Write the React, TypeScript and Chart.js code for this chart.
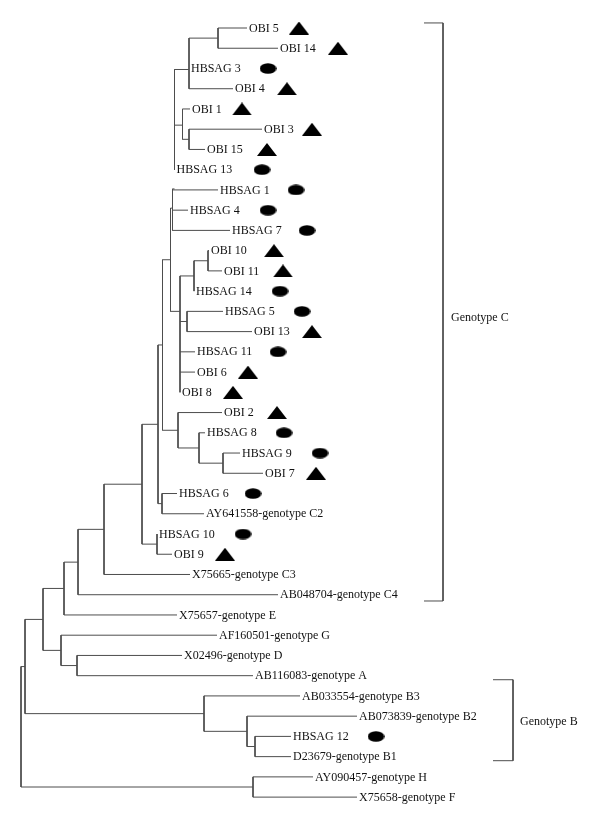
import React, { useEffect, useRef } from 'react';
import { Chart, registerables } from 'chart.js';

Chart.register(...registerables);

// Leaves, top to bottom (row = index)
const leafNames = [
  'OBI 5', 'OBI 14', 'HBSAG 3', 'OBI 4', 'OBI 1', 'OBI 3', 'OBI 15', 'HBSAG 13',
  'HBSAG 1', 'HBSAG 4', 'HBSAG 7', 'OBI 10', 'OBI 11', 'HBSAG 14', 'HBSAG 5', 'OBI 13',
  'HBSAG 11', 'OBI 6', 'OBI 8', 'OBI 2', 'HBSAG 8', 'HBSAG 9', 'OBI 7', 'HBSAG 6',
  'AY641558-genotype C2', 'HBSAG 10', 'OBI 9', 'X75665-genotype C3', 'AB048704-genotype C4',
  'X75657-genotype E', 'AF160501-genotype G', 'X02496-genotype D', 'AB116083-genotype A',
  'AB033554-genotype B3', 'AB073839-genotype B2', 'HBSAG 12', 'D23679-genotype B1',
  'AY090457-genotype H', 'X75658-genotype F',
];

// Cumulative distance of each leaf from the root
const leafDepth = [
  226, 257, 168, 212, 169, 241, 184, 153.5,
  197, 167, 209, 188, 201, 173, 202, 231,
  174, 174, 159, 201, 184, 219, 242, 156,
  183, 136, 151, 169, 257,
  156, 196, 161, 232,
  279, 336, 270, 270,
  292, 336,
];

// Sample marker: 'triangle' = OBI, 'ellipse' = HBsAg, '' = reference
const markerShape = [
  'triangle', 'triangle', 'ellipse', 'triangle', 'triangle', 'triangle', 'triangle', 'ellipse',
  'ellipse', 'ellipse', 'ellipse', 'triangle', 'triangle', 'ellipse', 'ellipse', 'triangle',
  'ellipse', 'triangle', 'triangle', 'triangle', 'ellipse', 'ellipse', 'triangle', 'ellipse',
  '', 'ellipse', 'triangle', '', '',
  '', '', '', '',
  '', '', 'ellipse', '',
  '', '',
];
const markerDepth = [
  278, 317, 247, 266, 221, 291, 246, 241,
  275, 247, 286, 253, 262, 259, 281, 291,
  257, 227, 212, 256, 263, 299, 295, 232,
  null, 222, 204, null, null,
  null, null, null, null,
  null, null, 355, null,
  null, null,
];

// Internal nodes
const nodeNames = [
  'n1', 'n2', 'n3', 'n4', 'n5', 'n6', 'n7', 'n8', 'n9', 'n10',
  'n11', 'n12', 'n13', 'n14', 'n15', 'n16', 'n17', 'n18', 'n19', 'n20',
  'n21', 'n22', 'n23', 'n24', 'n25', 'n26', 'n27', 'n28', 'n29', 'n30', 'root',
];
const nodeDepth = [
  197, 168, 168, 161.5, 153.5, 151.5, 187, 173, 166, 159,
  149.5, 202, 178, 157, 141.5, 141, 137, 136, 121, 83,
  57, 43, 56, 40, 22, 234, 226, 183, 4, 232, 0,
];
const nodeRow = [
  0.5, 2.05, 5.5, 4.8, 7.95, 8.9, 11.5, 12.25, 14.5, 14.0,
  11.45, 21.5, 20.75, 19.875, 15.66, 23.5, 19.58, 25.5, 22.54, 24.77,
  26.39, 27.69, 31.5, 30.75, 29.22, 35.5, 34.75, 33.875, 31.55, 37.5, 34.5,
];
const nodeChildren = [
  ['OBI 5', 'OBI 14'],
  ['n1', 'HBSAG 3', 'OBI 4'],
  ['OBI 3', 'OBI 15'],
  ['OBI 1', 'n3'],
  ['n2', 'n4', 'HBSAG 13'],
  ['n5', 'HBSAG 1', 'HBSAG 4', 'HBSAG 7'],
  ['OBI 10', 'OBI 11'],
  ['n7', 'HBSAG 14'],
  ['HBSAG 5', 'OBI 13'],
  ['n8', 'n9', 'HBSAG 11', 'OBI 6', 'OBI 8'],
  ['n6', 'n10'],
  ['HBSAG 9', 'OBI 7'],
  ['HBSAG 8', 'n12'],
  ['OBI 2', 'n13'],
  ['n11', 'n14'],
  ['HBSAG 6', 'AY641558-genotype C2'],
  ['n15', 'n16'],
  ['HBSAG 10', 'OBI 9'],
  ['n17', 'n18'],
  ['n19', 'X75665-genotype C3'],
  ['n20', 'AB048704-genotype C4'],
  ['n21', 'X75657-genotype E'],
  ['X02496-genotype D', 'AB116083-genotype A'],
  ['AF160501-genotype G', 'n23'],
  ['n22', 'n24'],
  ['HBSAG 12', 'D23679-genotype B1'],
  ['AB073839-genotype B2', 'n26'],
  ['AB033554-genotype B3', 'n27'],
  ['n25', 'n28'],
  ['AY090457-genotype H', 'X75658-genotype F'],
  ['n29', 'n30'],
];

// Clade brackets
const cladeNames = ['Genotype C', 'Genotype B'];
const cladeTop = [-0.25, 32.2];
const cladeBottom = [28.31, 36.2];
const cladeDepth = [422, 492];
const cladeTickDepth = [403, 472];
const cladeLabelDepth = [430, 499];
const cladeLabelRow = [14.3, 34.3];

const LINE = '#4d4d4d';
const FONT = '12px "Liberation Serif", "Times New Roman", serif';

function makeTriangle() {
  const c = document.createElement('canvas');
  c.width = 20;
  c.height = 13;
  const g = c.getContext('2d')!;
  g.beginPath();
  g.moveTo(10, 0);
  g.lineTo(20, 13);
  g.lineTo(0, 13);
  g.closePath();
  g.fillStyle = '#000';
  g.fill();
  return c;
}

function makeEllipse() {
  const c = document.createElement('canvas');
  c.width = 17;
  c.height = 11;
  const g = c.getContext('2d')!;
  g.beginPath();
  g.ellipse(8.5, 5.5, 8.3, 5.3, 0, 0, Math.PI * 2);
  g.fillStyle = '#000';
  g.fill();
  return c;
}

function lookup(name: string) {
  const li = leafNames.indexOf(name);
  if (li >= 0) return { x: leafDepth[li], y: li };
  const ni = nodeNames.indexOf(name);
  return { x: nodeDepth[ni], y: nodeRow[ni] };
}

function buildBranchDatasets() {
  const ds: any[] = [];
  const seg = (pts: { x: number; y: number }[]) => ({
    data: pts,
    showLine: true,
    borderColor: LINE,
    borderWidth: 1,
    pointRadius: 0,
    pointHoverRadius: 0,
    pointHitRadius: 0,
    fill: false,
    tension: 0,
    clip: false,
  });
  nodeNames.forEach((_, i) => {
    const kids = nodeChildren[i].map(lookup);
    const ys = kids.map((k) => k.y);
    ds.push(seg([{ x: nodeDepth[i], y: Math.min(...ys) }, { x: nodeDepth[i], y: Math.max(...ys) }]));
    kids.forEach((k) => {
      ds.push(seg([{ x: nodeDepth[i], y: k.y }, { x: k.x, y: k.y }]));
    });
  });
  cladeNames.forEach((_, i) => {
    ds.push(
      seg([
        { x: cladeTickDepth[i], y: cladeTop[i] },
        { x: cladeDepth[i], y: cladeTop[i] },
        { x: cladeDepth[i], y: cladeBottom[i] },
        { x: cladeTickDepth[i], y: cladeBottom[i] },
      ])
    );
  });
  return ds;
}

const labelPlugin = {
  id: 'treeLabels',
  afterDatasetsDraw(chart: any) {
    const { ctx, scales } = chart;
    const xs = scales.x;
    const ys = scales.y;
    ctx.save();
    ctx.font = FONT;
    ctx.fillStyle = '#111';
    ctx.textBaseline = 'middle';
    ctx.textAlign = 'left';
    leafNames.forEach((n, i) => {
      ctx.fillText(n, xs.getPixelForValue(leafDepth[i]) + 2, ys.getPixelForValue(i) + 0.5);
    });
    cladeNames.forEach((n, i) => {
      ctx.fillText(n, xs.getPixelForValue(cladeLabelDepth[i]), ys.getPixelForValue(cladeLabelRow[i]));
    });
    ctx.restore();
  },
};

export default function App() {
  const ref = useRef<HTMLCanvasElement | null>(null);

  useEffect(() => {
    document.body.style.margin = '0';
    document.body.style.background = '#fff';
    const canvas = ref.current;
    if (!canvas) return;
    const tri = makeTriangle();
    const ell = makeEllipse();

    const triData: { x: number; y: number }[] = [];
    const ellData: { x: number; y: number }[] = [];
    markerShape.forEach((s, i) => {
      const d = markerDepth[i];
      if (d === null) return;
      if (s === 'triangle') triData.push({ x: d, y: i });
      if (s === 'ellipse') ellData.push({ x: d, y: i });
    });

    const datasets: any[] = [
      ...buildBranchDatasets(),
      { data: triData, pointStyle: tri, pointRadius: 6, showLine: false, clip: false },
      { data: ellData, pointStyle: ell, pointRadius: 6, showLine: false, clip: false },
    ];

    const rowSpacing = 20.24;
    const yMin = -28 / rowSpacing;
    const yMax = yMin + 825 / rowSpacing;

    const chart = new Chart(canvas, {
      type: 'scatter',
      data: { datasets },
      options: {
        animation: false,
        responsive: true,
        maintainAspectRatio: false,
        events: [],
        layout: { padding: 0, autoPadding: false },
        plugins: {
          legend: { display: false },
          tooltip: { enabled: false },
        },
        scales: {
          x: { type: 'linear', min: -21, max: 579, display: false },
          y: { type: 'linear', min: yMin, max: yMax, reverse: true, display: false },
        },
      },
      plugins: [labelPlugin],
    });
    return () => chart.destroy();
  }, []);

  return (
    <div style={{ width: 600, height: 825, position: 'relative', background: '#fff' }}>
      <canvas ref={ref} />
    </div>
  );
}
